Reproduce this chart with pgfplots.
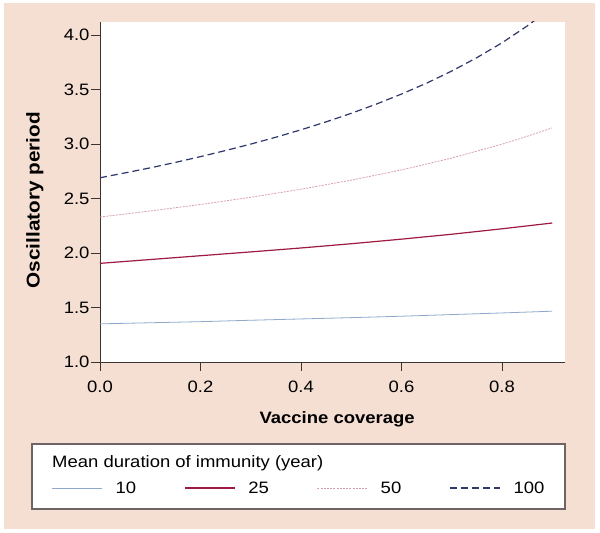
\documentclass[border=0pt]{standalone}
\usepackage{pgfplots}
\pgfplotsset{compat=1.18}
\usepackage{fontspec}
\setmainfont[FakeStretch=1.12]{Liberation Sans}
\definecolor{peach}{HTML}{F5DED2}
\definecolor{cten}{HTML}{8FA8CC}
\definecolor{ctwentyfive}{HTML}{9E1A40}
\definecolor{cfifty}{HTML}{D8A0AA}
\definecolor{chundred}{HTML}{2F376C}
\definecolor{axgray}{HTML}{3A3535}
\definecolor{boxgray}{HTML}{6E6464}
\newcommand{\fs}{\fontsize{16.5bp}{19bp}\selectfont}
\newcommand{\fsy}{\fontsize{18.5bp}{21bp}\selectfont}
\begin{document}
\begin{tikzpicture}
% picture origin = axis south-west corner (image px 100,362); 1px = 1bp
\path[use as bounding box] (-100bp,-171bp) rectangle (500bp,362bp);
\fill[white] (-100bp,-171bp) rectangle (500bp,362bp);
\fill[peach] (-96bp,-167bp) rectangle (495bp,359bp);
\fill[white,draw=boxgray,line width=1.2bp] (-68bp,-147bp) rectangle (465bp,-82bp);
\node[anchor=west,inner sep=0pt,font=\fs] at (-48bp,-101bp) {Mean duration of immunity (year)};
\begin{axis}[
  scale only axis, width=465bp, height=340bp,
  xmin=0, xmax=0.9254, ymin=1, ymax=4.119,
  enlargelimits=false,
  axis lines=left,
  axis line style={-, axgray, line width=0.9bp},
  axis background/.style={fill=white},
  xtick={0,0.2,0.4,0.6,0.8},
  ytick={1,1.5,2,2.5,3,3.5,4},
  xticklabels={0.0,0.2,0.4,0.6,0.8},
  yticklabels={1.0,1.5,2.0,2.5,3.0,3.5,4.0},
  tick align=outside,
  major tick length=9bp,
  tick style={axgray, line width=0.9bp},
  ticklabel style={font=\fs},
  xticklabel style={yshift=-6bp},
  yticklabel style={xshift=2bp},
  /pgf/number format/assume math mode=true,
  xlabel={\textbf{Vaccine coverage}},
  ylabel={\textbf{Oscillatory period}},
  xlabel style={font=\fs, at={(axis description cs:0.51,-0.168)}, anchor=center},
  ylabel style={font=\fsy, at={(axis description cs:-0.14,0.476)}, anchor=center},
  legend columns=4,
  legend style={draw=none, fill=none, at={(axis description cs:-0.104,-0.3706)}, anchor=west,
    inner sep=0pt, font=\fs,
    nodes={inner sep=0pt},
    /tikz/every odd column/.append style={column sep=13bp},
    /tikz/every even column/.append style={column sep=48bp}},
  legend image code/.code={\draw[#1] (0bp,0bp) -- (50bp,0bp);},
]
\addplot[cten, line width=0.8bp] coordinates {
(0,1.35) (0.1,1.36) (0.2,1.37) (0.3,1.383) (0.4,1.395) (0.5,1.407) (0.6,1.42) (0.7,1.435) (0.8,1.45) (0.9,1.466)};
\addlegendentry{10}
\addplot[ctwentyfive, line width=1.2bp] coordinates {
(0,1.905) (0.1,1.94) (0.2,1.975) (0.3,2.01) (0.4,2.046) (0.5,2.085) (0.6,2.127) (0.7,2.172) (0.8,2.222) (0.9,2.275)};
\addlegendentry{25}
\addplot[cfifty, line width=0.8bp, dash pattern=on 2bp off 1.2bp] coordinates {
(0,2.33) (0.1,2.385) (0.2,2.445) (0.3,2.511) (0.4,2.585) (0.5,2.668) (0.6,2.762) (0.7,2.871) (0.8,2.998) (0.85,3.070) (0.9,3.148)};
\addlegendentry{50}
\addplot[chundred, line width=1.2bp, dash pattern=on 7bp off 4bp] coordinates {
(0,2.69) (0.05,2.735) (0.1,2.781) (0.15,2.831) (0.2,2.884) (0.25,2.94) (0.3,2.999) (0.35,3.062) (0.4,3.13) (0.45,3.203) (0.5,3.281) (0.55,3.366) (0.6,3.458) (0.65,3.558) (0.7,3.669) (0.75,3.792) (0.8,3.928) (0.85,4.082) (0.9,4.254)};
\addlegendentry{100}
\end{axis}
\end{tikzpicture}
\end{document}
